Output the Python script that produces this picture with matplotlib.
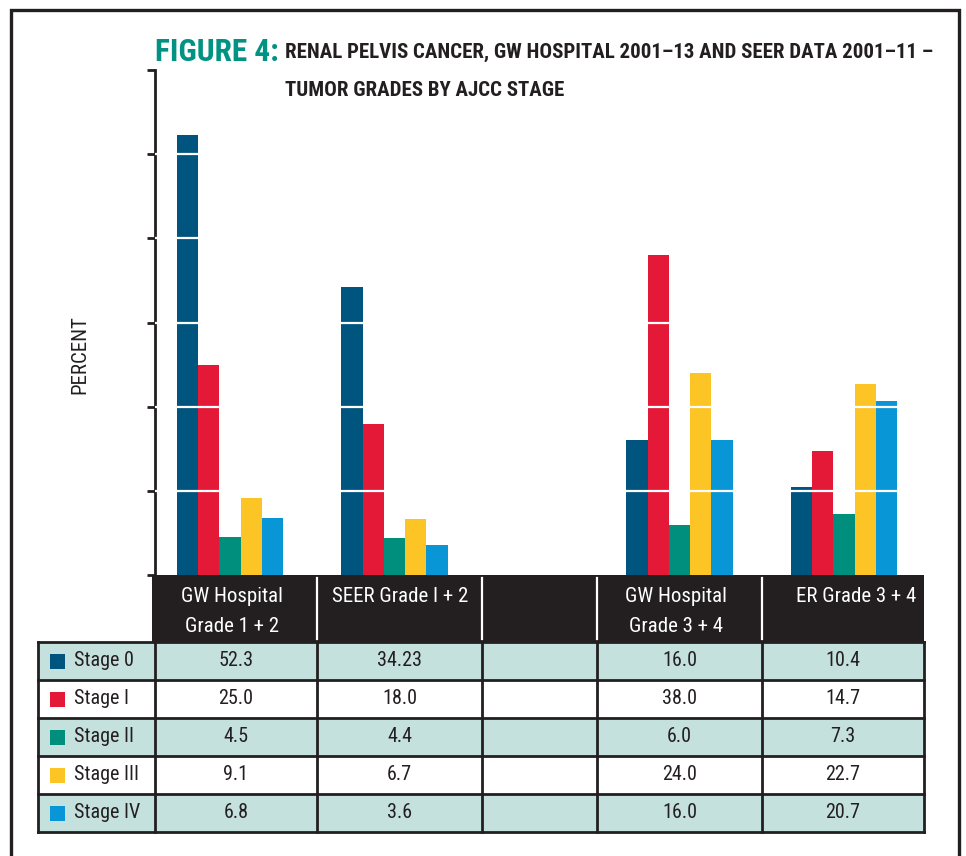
import matplotlib.pyplot as plt
from matplotlib import font_manager
from matplotlib.patches import Rectangle

stages = ["Stage 0", "Stage I", "Stage II", "Stage III", "Stage IV"]
column_labels = ["GW Hospital\nGrade 1 + 2", "SEER Grade I + 2", "",
                 "GW Hospital\nGrade 3 + 4", "ER Grade 3 + 4"]
gw_grade12 = [52.3, 25.0, 4.5, 9.1, 6.8]
seer_grade12 = [34.23, 18.0, 4.4, 6.7, 3.6]
gw_grade34 = [16.0, 38.0, 6.0, 24.0, 16.0]
seer_grade34 = [10.4, 14.7, 7.3, 22.7, 20.7]
columns = [gw_grade12, seer_grade12, None, gw_grade34, seer_grade34]

colors = ["#00557f", "#e31937", "#008f7c", "#fdc425", "#0996d6"]
dark = "#231f20"
teal_title = "#009282"
row_fill = ["#c5e1dd", "white"]

names = {f.name for f in font_manager.fontManager.ttflist}
narrow = next((n for n in ["Liberation Sans Narrow", "DejaVu Sans Condensed",
                           "Roboto Condensed"] if n in names), "DejaVu Sans")
plt.rcParams['font.family'] = [narrow, 'DejaVu Sans']

# layout in pixels
W, H = 966, 856
col_edges = [155, 317, 482, 597, 762, 924]
bar_shift = [-6, -5, 0, 0, 1]
head_x = [232, 400, 540, 676, 856]
axis_top, axis_bottom = 70, 575
row_edges = [642, 680, 718, 756, 794, 832]
bw = 21.3

fig = plt.figure(figsize=(W / 100, H / 100), dpi=100)

bg = fig.add_axes([0, 0, 1, 1])
bg.set_xlim(0, W)
bg.set_ylim(H, 0)
bg.axis('off')

ax = fig.add_axes([col_edges[0] / W, (H - axis_bottom) / H,
                   (col_edges[-1] - col_edges[0]) / W, (axis_bottom - axis_top) / H])
ax.set_facecolor('none')
ax.set_xlim(col_edges[0], col_edges[-1])
ax.set_ylim(0, 60)

for i, vals in enumerate(columns):
    if vals is None:
        continue
    gc = (col_edges[i] + col_edges[i + 1]) / 2 + bar_shift[i]
    for k, v in enumerate(vals):
        ax.bar(gc + (k - 2) * bw, v, width=bw, color=colors[k], zorder=2)

for yv in range(10, 60, 10):
    ax.axhline(yv, color='white', lw=1.6, zorder=3)

ax.set_yticks(range(0, 61, 10))
ax.set_yticklabels([])
ax.set_xticks([])
ax.tick_params(axis='y', direction='out', length=6, width=2, color=dark)
for s in ['top', 'right', 'bottom']:
    ax.spines[s].set_visible(False)
ax.spines['left'].set_linewidth(2)
ax.spines['left'].set_color(dark)

# outer frame
bg.plot([10.5, 10.5, 959, 959], [H, 10, 10, H], color=dark, lw=2.4,
        solid_joinstyle='miter')

# title
bg.text(155, 61, "FIGURE 4:", color=teal_title, fontsize=22.5, fontweight='bold',
        va='baseline')
bg.text(285, 58, "RENAL PELVIS CANCER, GW HOSPITAL 2001\u201313 AND SEER DATA 2001\u201311 \u2013",
        color=dark, fontsize=15, fontweight='bold', va='baseline')
bg.text(285, 96, "TUMOR GRADES BY AJCC STAGE", color=dark, fontsize=15,
        fontweight='bold', va='baseline')

bg.text(80, 355, "PERCENT", rotation=90, ha='center', va='center',
        fontsize=15, color=dark)

# table header
bg.add_patch(Rectangle((152, axis_bottom), col_edges[-1] - 152,
                       row_edges[0] - axis_bottom, color=dark, lw=0))
for x in col_edges[1:-1]:
    bg.plot([x, x], [axis_bottom + 3, row_edges[0] - 3], color='white', lw=1.6)
for i, lab in enumerate(column_labels):
    for j, line in enumerate(lab.split("\n")):
        bg.text(head_x[i], 597 + j * 30, line, color='white', fontsize=15,
                ha='center', va='center')

# table body
left = 38
for r, st in enumerate(stages):
    y0, y1 = row_edges[r], row_edges[r + 1]
    bg.add_patch(Rectangle((left, y0), col_edges[-1] - left, y1 - y0,
                           facecolor=row_fill[r % 2], lw=0))
    yc = (y0 + y1) / 2
    bg.add_patch(Rectangle((50, yc - 7.5), 15, 15, facecolor=colors[r], lw=0))
    bg.text(74, yc, st, fontsize=14.5, color=dark, ha='left', va='center')
    for i, vals in enumerate(columns):
        if vals is None:
            continue
        v = vals[r]
        txt = "%.2f" % v if abs(v * 10 - round(v * 10)) > 1e-6 else "%.1f" % v
        bg.text((col_edges[i] + col_edges[i + 1]) / 2, yc, txt, fontsize=14.5,
                color=dark, ha='center', va='center')

for y in row_edges:
    bg.plot([left, col_edges[-1]], [y, y], color=dark, lw=2)
for x in [left] + col_edges:
    bg.plot([x, x], [row_edges[0], row_edges[-1]], color=dark, lw=2)

fig.savefig("out.png", dpi=100)
